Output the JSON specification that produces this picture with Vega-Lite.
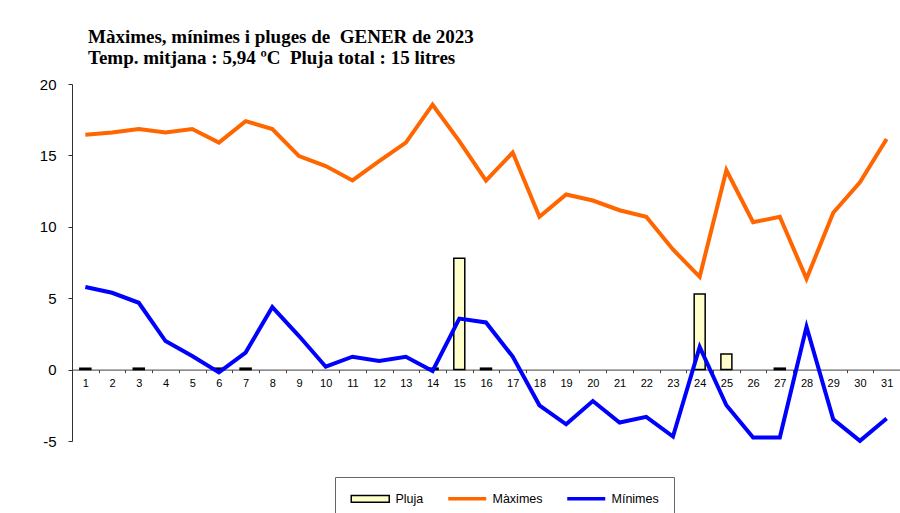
{
  "$schema": "https://vega.github.io/schema/vega-lite/v6.json",
  "width": 828,
  "height": 357,
  "autosize": {"type": "none"},
  "padding": {"left": 72, "top": 84, "right": 0, "bottom": 72},
  "background": "white",
  "config": {"view": {"stroke": null}},
  "title": {
    "text": ["Màximes, mínimes i pluges de\u00a0 GENER de 2023", "Temp. mitjana : 5,94 ºC\u00a0 Pluja total : 15 litres"],
    "anchor": "start",
    "frame": "group",
    "dx": 16,
    "offset": 9,
    "font": "Liberation Serif",
    "fontSize": 19,
    "fontWeight": "bold",
    "lineHeight": 21,
    "color": "black"
  },
  "data": {
    "values": [
      {"day": 1, "pluja": 0.1, "max": 16.45, "min": 5.78},
      {"day": 2, "pluja": null, "max": 16.6, "min": 5.38},
      {"day": 3, "pluja": 0.1, "max": 16.85, "min": 4.68},
      {"day": 4, "pluja": null, "max": 16.6, "min": 2.0},
      {"day": 5, "pluja": null, "max": 16.85, "min": 0.95},
      {"day": 6, "pluja": 0.1, "max": 15.9, "min": -0.2},
      {"day": 7, "pluja": 0.1, "max": 17.4, "min": 1.19},
      {"day": 8, "pluja": null, "max": 16.85, "min": 4.38},
      {"day": 9, "pluja": null, "max": 14.95, "min": 2.35},
      {"day": 10, "pluja": null, "max": 14.25, "min": 0.2},
      {"day": 11, "pluja": null, "max": 13.25, "min": 0.9},
      {"day": 12, "pluja": null, "max": 14.6, "min": 0.6},
      {"day": 13, "pluja": null, "max": 15.9, "min": 0.9},
      {"day": 14, "pluja": 0.1, "max": 18.55, "min": -0.1},
      {"day": 15, "pluja": 7.8, "max": 16.0, "min": 3.57},
      {"day": 16, "pluja": 0.1, "max": 13.24, "min": 3.3},
      {"day": 17, "pluja": null, "max": 15.2, "min": 0.91},
      {"day": 18, "pluja": null, "max": 10.7, "min": -2.5},
      {"day": 19, "pluja": null, "max": 12.26, "min": -3.83},
      {"day": 20, "pluja": null, "max": 11.84, "min": -2.2},
      {"day": 21, "pluja": null, "max": 11.16, "min": -3.71},
      {"day": 22, "pluja": null, "max": 10.7, "min": -3.31},
      {"day": 23, "pluja": null, "max": 8.41, "min": -4.69},
      {"day": 24, "pluja": 5.3, "max": 6.5, "min": 1.58},
      {"day": 25, "pluja": 1.1, "max": 13.96, "min": -2.5},
      {"day": 26, "pluja": null, "max": 10.32, "min": -4.76},
      {"day": 27, "pluja": 0.1, "max": 10.7, "min": -4.76},
      {"day": 28, "pluja": null, "max": 6.36, "min": 3.0},
      {"day": 29, "pluja": null, "max": 10.98, "min": -3.48},
      {"day": 30, "pluja": null, "max": 13.12, "min": -4.99},
      {"day": 31, "pluja": null, "max": 16.15, "min": -3.43}
    ]
  },
  "encoding": {
    "x": {
      "field": "day",
      "type": "ordinal",
      "scale": {"paddingInner": 0, "paddingOuter": 0},
      "axis": {
        "title": null,
        "labelAngle": 0,
        "offset": -71.4,
        "tickBand": "extent",
        "tickSize": 3,
        "labelPadding": 5,
        "labelFont": "Liberation Sans",
        "labelFontSize": 11,
        "labelColor": "black",
        "domainColor": "#404040",
        "tickColor": "#404040",
        "grid": false
      }
    }
  },
  "layer": [
    {
      "transform": [{"filter": "isValid(datum.pluja)"}],
      "mark": {"type": "bar", "size": 11, "fill": "#FFFFCC", "stroke": "black", "strokeWidth": 1.5},
      "encoding": {
        "y": {
          "field": "pluja",
          "type": "quantitative",
          "scale": {"domain": [-5, 20], "nice": false, "zero": false},
          "axis": {
            "title": null,
            "values": [-5, 0, 5, 10, 15, 20],
            "labelExpr": "datum.value < 0 ? '-' + abs(datum.value) : '' + datum.value",
            "tickSize": 4,
            "labelPadding": 12,
            "labelFont": "Liberation Sans",
            "labelFontSize": 15,
            "labelColor": "black",
            "domainColor": "#303030",
            "tickColor": "#303030",
            "grid": false
          }
        },
        "y2": {"datum": 0}
      }
    },
    {
      "transform": [{"fold": ["max", "min"], "as": ["serie", "temp"]}],
      "mark": {"type": "line", "strokeWidth": 4, "strokeJoin": "miter"},
      "encoding": {
        "y": {"field": "temp", "type": "quantitative"},
        "color": {
          "field": "serie",
          "type": "nominal",
          "scale": {"domain": ["Pluja", "max", "min"], "range": ["black", "#FF6600", "#0000FF"]},
          "legend": {
            "title": null,
            "orient": "none",
            "legendX": 263,
            "legendY": 393,
            "direction": "horizontal",
            "symbolSize": 100,
            "labelFont": "Liberation Sans",
            "labelFontSize": 12.5,
            "labelColor": "black",
            "labelOffset": 33,
            "columnPadding": 17,
            "padding": 15,
            "strokeColor": "#666666",
            "fillColor": "white",
            "labelExpr": "datum.value == 'max' ? 'Màximes' : datum.value == 'min' ? 'Mínimes' : 'Pluja'",
            "symbolType": {"expr": "datum.value == 'Pluja' ? 'M-1,-0.66H6.6V0.66H-1Z' : 'M-1,0H6.6'"},
            "symbolFillColor": {"expr": "datum.value == 'Pluja' ? '#FFFFCC' : 'transparent'"},
            "symbolStrokeWidth": {"expr": "datum.value == 'Pluja' ? 1.5 : 3.5"},
            "symbolOpacity": 1
          }
        }
      }
    }
  ]
}
